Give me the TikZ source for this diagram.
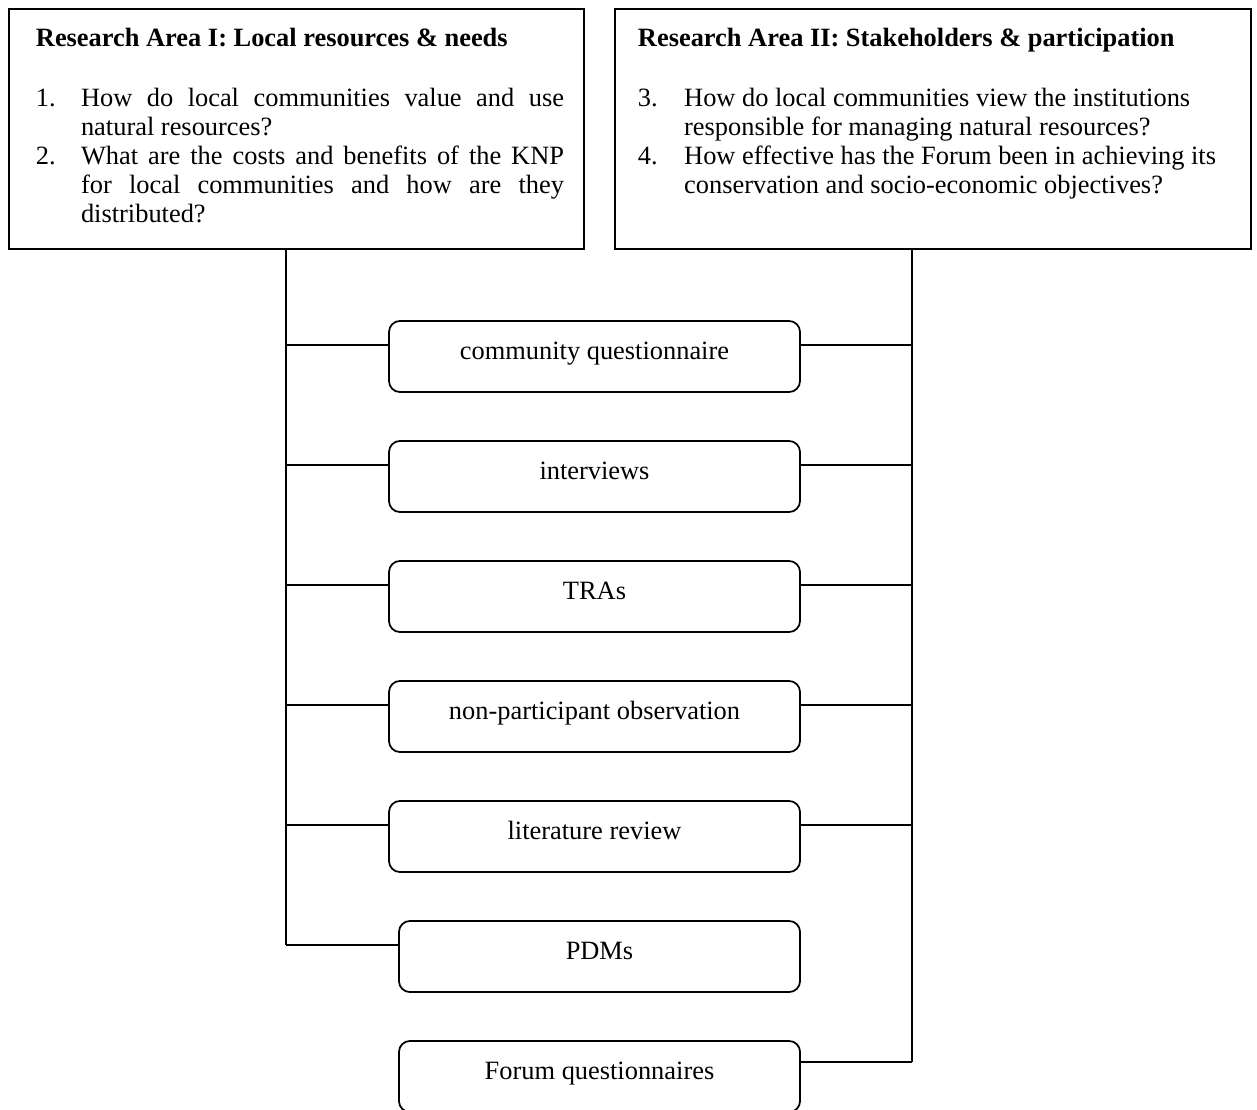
\documentclass[tikz,border=0pt]{standalone}
\usepackage{fontspec}
\setmainfont{Liberation Serif}
\usetikzlibrary{positioning}
\setlength{\parindent}{0pt}

\begin{document}
\begin{tikzpicture}[x=0.4545pt, y=-0.4545pt,
  font=\fontsize{12pt}{13.2pt}\selectfont,
  every path/.style={line width=0.8pt},
  areabox/.style={draw, inner sep=0pt, minimum height=109.1pt, anchor=north west},
  areatext/.style={inner sep=0pt, anchor=north west, align=justify},
  method/.style={draw, rounded corners=5pt, inner sep=0pt, minimum width=186.8pt,
    minimum height=32.3pt, text height=7.4pt, text depth=4.6pt}]
\useasboundingbox (0,0) rectangle (1257,1109);
% research areas
\node [areabox, minimum width=261.3pt] (ra1) at (8,8) {};
\node [areabox, minimum width=289.1pt] (ra2) at (614,8) {};
\node [areatext, text width=240pt, below right=8.6pt and 12.3pt of ra1.north west] (ra1txt) {%
  \textbf{Research Area I: Local resources \& needs}\par\vspace{14.1pt}
  \hangindent=20.5pt\hangafter=1\makebox[20.5pt][l]{1.}How do local communities value and use\linebreak natural resources?\par
  \hangindent=20.5pt\hangafter=1\makebox[20.5pt][l]{2.}What are the costs and benefits of the KNP\linebreak for local communities and how are they\linebreak distributed?\par};
\node [areatext, text width=268pt, below right=8.6pt and 10.5pt of ra2.north west] (ra2txt) {%
  \raggedright
  \textbf{Research Area II: Stakeholders \& participation}\par\vspace{14.1pt}
  \hangindent=21pt\hangafter=1\makebox[21pt][l]{3.}How do local communities view the institutions\linebreak responsible for managing natural resources?\par
  \hangindent=21pt\hangafter=1\makebox[21pt][l]{4.}How effective has the Forum been in achieving its\linebreak conservation and socio-economic objectives?\par};
% methods
\node [method] (cq) at (594.5,356.5) {community questionnaire};
\node [method] (iv) at (594.5,476.5) {interviews};
\node [method] (tra) at (594.5,596.5) {TRAs};
\node [method] (npo) at (594.5,716.5) {non-participant observation};
\node [method] (lr) at (594.5,836.5) {literature review};
\node [method, minimum width=182.3pt] (pdm) at (599.5,956.5) {PDMs};
\node [method, minimum width=182.3pt] (fq) at (599.5,1076.5) {Forum questionnaires};
% trunks
\coordinate (ltop) at (286,248);
\coordinate (rtop) at (912,248);
\coordinate (l1) at (286,345);
\coordinate (l2) at (286,465);
\coordinate (l3) at (286,585);
\coordinate (l4) at (286,705);
\coordinate (l5) at (286,825);
\coordinate (l6) at (286,945);
\coordinate (r1) at (912,345);
\coordinate (r2) at (912,465);
\coordinate (r3) at (912,585);
\coordinate (r4) at (912,705);
\coordinate (r5) at (912,825);
\coordinate (r6) at (912,1062);
\draw (ltop) -- (l6);
\draw (rtop) -- (r6);
\draw (l1) -- (l1 -| cq.west);
\draw (l2) -- (l2 -| iv.west);
\draw (l3) -- (l3 -| tra.west);
\draw (l4) -- (l4 -| npo.west);
\draw (l5) -- (l5 -| lr.west);
\draw (l6) -- (l6 -| pdm.west);
\draw (cq.east |- r1) -- (r1);
\draw (iv.east |- r2) -- (r2);
\draw (tra.east |- r3) -- (r3);
\draw (npo.east |- r4) -- (r4);
\draw (lr.east |- r5) -- (r5);
\draw (fq.east |- r6) -- (r6);
\end{tikzpicture}
\end{document}
